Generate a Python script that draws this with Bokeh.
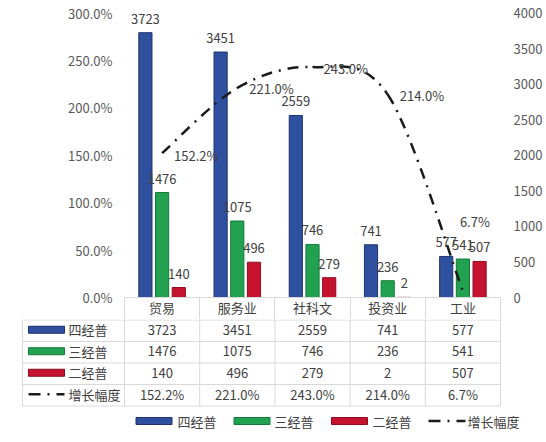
from bokeh.plotting import figure
from bokeh.models import (Range1d, LinearAxis, FixedTicker,
                          PrintfTickFormatter, ColumnDataSource)
from bokeh.transform import dodge
from bokeh.layouts import column
from bokeh.embed import file_html
from bokeh.resources import INLINE
from bokeh.core.properties import value

# ---------------- data ----------------
categories = ["贸易", "服务业", "社科文", "投资业", "工业"]
series_names = ["四经普", "三经普", "二经普"]
census4 = [3723, 3451, 2559, 741, 577]
census3 = [1476, 1075, 746, 236, 541]
census2 = [140, 496, 279, 2, 507]
growth_name = "增长幅度"
growth_pct = [152.2, 221.0, 243.0, 214.0, 6.7]
pct_ticks = [0, 50, 100, 150, 200, 250, 300]
count_ticks = [0, 500, 1000, 1500, 2000, 2500, 3000, 3500, 4000]

# ---------------- style ----------------
FONT = "Noto Sans CJK SC"
FS = "13px"
TXT = "#404040"
AXT = "#595959"
GRID = "#d9d9d9"
FILL = ["#2f4f9f", "#22a250", "#c5132f"]
EDGE = ["#1d3270", "#147a3a", "#8e0c21"]
LINE = "#1a1a1a"
DASH = "11 7 2 7"
W = 546
A_H = 319
B_H = 123
n = len(categories)

# ---------------- chart (top) ----------------
# x: one unit per category slot (slot i is centred at i + 0.5)
p = figure(width=W, height=A_H,
           x_range=Range1d(0, n),
           y_range=Range1d(0, 313.2),
           x_axis_location=None, y_axis_location=None,
           output_backend="svg", toolbar_location=None,
           min_border_left=124, min_border_right=46,
           min_border_top=0, min_border_bottom=22)
p.frame_align = False
p.extra_y_ranges = {"cnt": Range1d(0, 4175.7)}
p.outline_line_color = None
p.grid.grid_line_color = None
p.background_fill_color = "white"
p.border_fill_color = "white"

yl = LinearAxis(ticker=FixedTicker(ticks=pct_ticks),
                formatter=PrintfTickFormatter(format="%.1f%%"))
yr = LinearAxis(y_range_name="cnt", ticker=FixedTicker(ticks=count_ticks))
for ax, so in ((yl, 12), (yr, 13)):
    ax.axis_line_color = None
    ax.major_tick_out = 0
    ax.major_tick_in = 0
    ax.minor_tick_out = 0
    ax.minor_tick_in = 0
    ax.major_label_standoff = so
    ax.major_label_text_font = FONT
    ax.major_label_text_font_size = FS
    ax.major_label_text_color = AXT
p.add_layout(yl, "left")
p.add_layout(yr, "right")

centers = [i + 0.5 for i in range(n)]

# category axis = header row of the data table (minor ticks draw the cell borders)
xa = LinearAxis(ticker=FixedTicker(ticks=centers, minor_ticks=list(range(n + 1))),
                major_label_overrides={c: name for c, name in zip(centers, categories)})
xa.axis_line_color = GRID
xa.major_tick_out = 0
xa.major_tick_in = 0
xa.minor_tick_out = 22
xa.minor_tick_in = 0
xa.minor_tick_line_color = GRID
xa.major_label_standoff = -22
xa.major_label_text_font = FONT
xa.major_label_text_font_size = FS
xa.major_label_text_color = TXT
p.add_layout(xa, "below")

src = ColumnDataSource(dict(
    pos=centers, cat=categories,
    c4=census4, c3=census3, c2=census2,
    t4=[str(v) for v in census4], t3=[str(v) for v in census3], t2=[str(v) for v in census2],
))
offsets = [-0.222, 0.0, 0.222]
for key, lab, off, fc, ec in zip(["c4", "c3", "c2"], ["t4", "t3", "t2"], offsets, FILL, EDGE):
    p.vbar(x=dodge("pos", off), top=key, bottom=0, width=0.175,
           source=src, y_range_name="cnt", fill_color=fc, line_color=ec, line_width=1)
    p.text(x=dodge("pos", off), y=key, text=lab, source=src,
           y_range_name="cnt", text_align="center", text_baseline="middle", y_offset=-14,
           text_font=value(FONT), text_font_size=FS, text_color=TXT)

# smoothed growth line (Catmull-Rom style Bezier through the data points)
xs = centers
ys = growth_pct
idx = range(n - 1)
bz = ColumnDataSource(dict(
    x0=[xs[i] for i in idx], y0=[ys[i] for i in idx],
    x1=[xs[i + 1] for i in idx], y1=[ys[i + 1] for i in idx],
    cx0=[xs[i] + (xs[i + 1] - xs[max(i - 1, 0)]) / 6 for i in idx],
    cy0=[ys[i] + (ys[i + 1] - ys[max(i - 1, 0)]) / 6 for i in idx],
    cx1=[xs[i + 1] - (xs[min(i + 2, n - 1)] - xs[i]) / 6 for i in idx],
    cy1=[ys[i + 1] - (ys[min(i + 2, n - 1)] - ys[i]) / 6 for i in idx],
))
p.bezier(x0="x0", y0="y0", x1="x1", y1="y1", cx0="cx0", cy0="cy0", cx1="cx1", cy1="cy1",
         source=bz, line_color=LINE, line_width=2.5, line_dash=DASH)
gl = ColumnDataSource(dict(x=xs, y=ys, t=[f"{v:.1f}%" for v in ys],
                           dx=[12, 12, 11, 12, -3], dy=[2, 1, 1, 1, -70]))
p.text(x="x", y="y", text="t", source=gl, x_offset="dx", y_offset="dy",
       text_align="left", text_baseline="middle",
       text_font=value(FONT), text_font_size=FS, text_color=TXT)

# ---------------- data table + legend (bottom) ----------------
TOP = A_H
t = figure(width=W, height=B_H, x_range=Range1d(0, W), y_range=Range1d(TOP + B_H, TOP),
           x_axis_location=None, y_axis_location=None, min_border=0,
           output_backend="svg", toolbar_location=None)
t.frame_align = False
t.outline_line_color = None
t.grid.grid_line_color = None

LBL_LEFT = 22
COL_LEFT = 124
COL_W = 75.2
ROW_TOP = TOP + 0.5
ROW_H = 21.5
rows = [census4, census3, census2, [f"{v:.1f}%" for v in growth_pct]]
nr = len(rows)
right = COL_LEFT + n * COL_W
bottom = ROW_TOP + nr * ROW_H

t.segment(x0=[LBL_LEFT] * (nr + 1), x1=[right] * (nr + 1),
          y0=[ROW_TOP + k * ROW_H for k in range(nr + 1)],
          y1=[ROW_TOP + k * ROW_H for k in range(nr + 1)], line_color=GRID, line_width=1)
vx = [LBL_LEFT] + [COL_LEFT + j * COL_W for j in range(n + 1)]
t.segment(x0=vx, x1=vx, y0=[TOP] * len(vx), y1=[bottom] * len(vx), line_color=GRID, line_width=1)

cx, cy, ct = [], [], []
for r, vals in enumerate(rows):
    for j, v in enumerate(vals):
        cx.append(COL_LEFT + (j + 0.5) * COL_W)
        cy.append(ROW_TOP + (r + 0.5) * ROW_H - 1)
        ct.append(str(v))
t.text(x=cx, y=cy, text=ct, text_align="center", text_baseline="middle",
       text_font=value(FONT), text_font_size=FS, text_color=TXT)

# row headers with keys
rc = [ROW_TOP + (r + 0.5) * ROW_H - 1 for r in range(nr)]
t.rect(x=[46] * 3, y=rc[:3], width=36, height=7, fill_color=FILL, line_color=EDGE)
t.segment(x0=[28], x1=[64], y0=[rc[3]], y1=[rc[3]], line_color=LINE, line_width=2.5,
          line_dash="12 7 2 7")
t.text(x=[68] * nr, y=rc, text=series_names + [growth_name], text_align="left",
       text_baseline="middle", text_font=value(FONT), text_font_size=FS, text_color=TXT)

# legend
LY = 420.5
t.rect(x=[153.5, 251.5, 349], y=[LY] * 3, width=36, height=7, fill_color=FILL, line_color=EDGE)
t.segment(x0=[428], x1=[465], y0=[LY], y1=[LY], line_color=LINE, line_width=2.5,
          line_dash="12 7 2 7")
t.text(x=[177, 274, 372, 467], y=[LY] * 4, text=series_names + [growth_name],
       text_align="left", text_baseline="middle",
       text_font=value(FONT), text_font_size=FS, text_color=TXT)

layout = column(p, t, spacing=0)
open("out.html", "w").write(file_html(layout, INLINE))
